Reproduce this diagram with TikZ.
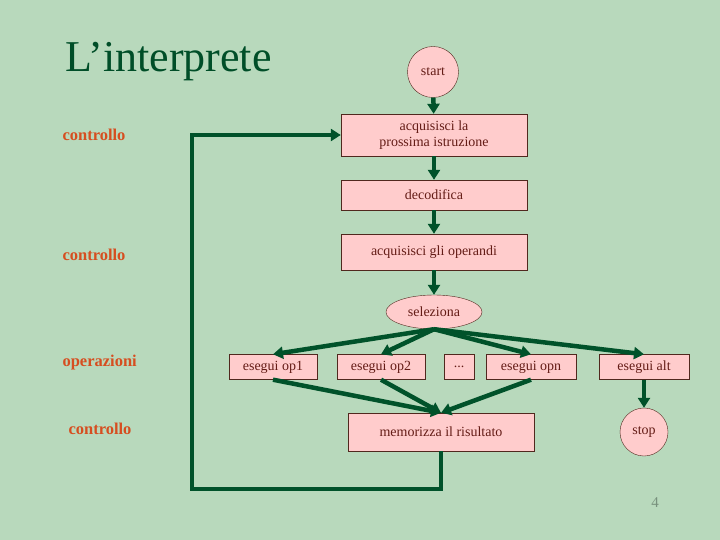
\documentclass[tikz,border=0pt]{standalone}
\usepackage{fontspec}
\setmainfont{Liberation Serif}
\usetikzlibrary{arrows.meta,shapes.geometric}
\definecolor{slidegreen}{RGB}{184,217,188}
\definecolor{titlegreen}{RGB}{0,78,40}
\definecolor{flowgreen}{RGB}{0,82,42}
\definecolor{boxpink}{RGB}{255,204,204}
\definecolor{boxline}{RGB}{80,40,30}
\definecolor{boxtext}{RGB}{100,28,22}
\definecolor{sidered}{RGB}{214,78,32}
\definecolor{pagegrey}{RGB}{120,145,125}
\begin{document}
\begin{tikzpicture}[x=1pt,y=-1pt,
	box/.style={draw=boxline,fill=boxpink,text=boxtext,inner sep=0pt,font=\fontsize{14}{15.5}\selectfont},
	flow/.style={draw=flowgreen,line width=4.5pt,-{Triangle[length=10pt,width=12pt]}},
	side/.style={text=sidered,anchor=west,font=\bfseries\fontsize{16.5}{18}\selectfont}]
	\fill [slidegreen] (0,0) rectangle (720,540);
	\node [anchor=base west,text=titlegreen,font=\fontsize{44}{48}\selectfont] (title) at (62,72) {L’interprete};
	\node [side] (ctrlA) at (59,135) {controllo};
	\node [side] (ctrlB) at (59,255) {controllo};
	\node [side] (ops) at (59,363) {operazioni};
	\node [side] (ctrlC) at (65,429) {controllo};
	\node [box,circle,minimum size=51pt] (start) at (433,72) {start};
	\node [box,minimum width=186pt,minimum height=42pt,align=center] (fetch) at (434,135) {acquisisci la\\prossima istruzione};
	\node [box,minimum width=186pt,minimum height=30pt] (decode) at (434,195) {decodifica};
	\node [box,minimum width=186pt,minimum height=36pt] (operands) at (434,252) {acquisisci gli operandi};
	\node [box,ellipse,minimum width=96pt,minimum height=34pt] (select) at (434,312) {seleziona};
	\node [box,minimum width=88pt,minimum height=25pt] (opA) at (273,367) {esegui op1};
	\node [box,minimum width=88pt,minimum height=25pt] (opB) at (381,367) {esegui op2};
	\node [box,minimum width=30pt,minimum height=25pt] (dots) at (459,367) {...};
	\node [box,minimum width=90pt,minimum height=25pt] (opN) at (531,367) {esegui opn};
	\node [box,minimum width=90pt,minimum height=25pt] (alt) at (644,367) {esegui alt};
	\node [box,minimum width=186pt,minimum height=38pt] (store) at (441,432) {memorizza il risultato};
	\node [box,circle,minimum size=48pt] (stop) at (644,432) {stop};
	\node [text=pagegrey,font=\fontsize{15}{16}\selectfont] (page) at (655,503) {4};
	\coordinate (back) at (192,489);
	\draw [flow] (start) -- (fetch);
	\draw [flow] (fetch) -- (decode);
	\draw [flow] (decode) -- (operands);
	\draw [flow] (operands) -- (select);
	\draw [flow] (select.south) -- (opA.north);
	\draw [flow] (select.south) -- (opB.north);
	\draw [flow] (select.south) -- (opN.north);
	\draw [flow] (select.south) -- (alt.north);
	\draw [flow] (opA.south) -- (store.north);
	\draw [flow] (opB.south) -- (store.north);
	\draw [flow] (opN.south) -- (store.north);
	\draw [flow] (alt) -- (stop);
	\draw [flow] (store.south) |- (back) |- (fetch.west);
\end{tikzpicture}
\end{document}
